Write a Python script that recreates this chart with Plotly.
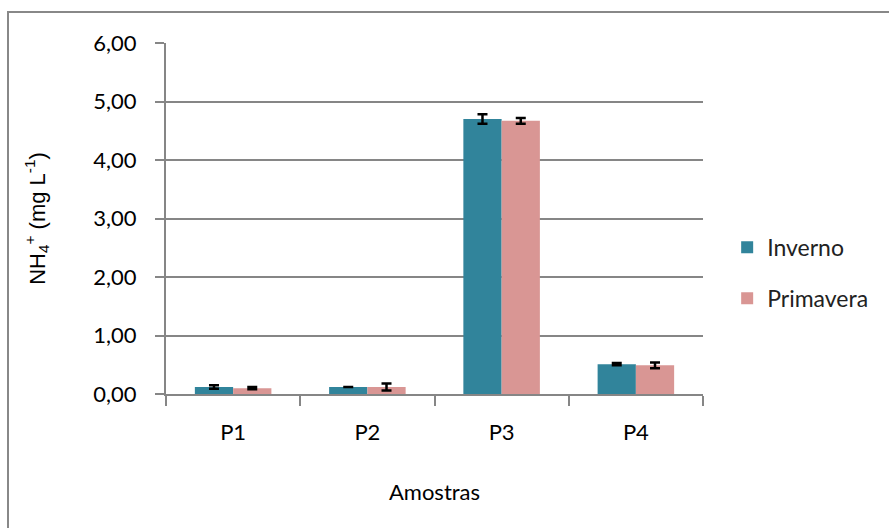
import plotly.graph_objects as go

# Amostras and NH4+ concentrations (mg/L) with standard deviations
amostras = ["P1", "P2", "P3", "P4"]
inverno = [0.12, 0.12, 4.70, 0.51]
inverno_err = [0.03, 0.0, 0.08, 0.02]
primavera = [0.10, 0.12, 4.67, 0.49]
primavera_err = [0.02, 0.06, 0.05, 0.05]

y_ticks = [0, 1, 2, 3, 4, 5, 6]
y_tick_labels = ["0,00", "1,00", "2,00", "3,00", "4,00", "5,00", "6,00"]

font_main = "Lato, Carlito, Calibri, sans-serif"

fig = go.Figure()
fig.add_trace(go.Bar(
    name="Inverno", x=amostras, y=inverno,
    marker=dict(color="#31849B", line=dict(width=0)),
    error_y=dict(type="data", array=inverno_err, color="black", thickness=2.5, width=5),
    legendgroup="a",
))
fig.add_trace(go.Bar(
    name="Primavera", x=amostras, y=primavera,
    marker=dict(color="#D99694", line=dict(width=0)),
    error_y=dict(type="data", array=primavera_err, color="black", thickness=2.5, width=5),
    legendgroup="b",
))

fig.update_layout(
    width=889, height=528,
    margin=dict(l=166, r=186, t=43, b=134, autoexpand=False),
    paper_bgcolor="white", plot_bgcolor="white",
    barmode="group", bargap=0.43, bargroupgap=0,
    font=dict(family=font_main, size=22, color="#000000"),
    showlegend=True,
    legend=dict(x=1.045, y=0.345, xanchor="left", yanchor="middle",
                font=dict(size=23, family=font_main, color="#222"),
                tracegroupgap=18, itemwidth=30, bgcolor="rgba(0,0,0,0)"),
    xaxis=dict(
        type="category", showline=True, linecolor="#868686", linewidth=2,
        ticks="outside", tickson="boundaries", ticklen=10, tickcolor="#868686", tickwidth=2,
        showgrid=False, tickfont=dict(size=22, family=font_main), ticklabelstandoff=18,
        title=dict(text="Amostras", font=dict(size=22, family=font_main), standoff=40),
        automargin=False,
    ),
    yaxis=dict(
        range=[0, 6], tickvals=y_ticks, ticktext=y_tick_labels,
        showline=True, linecolor="#868686", linewidth=2,
        ticks="outside", ticklen=9, tickcolor="#868686", tickwidth=2,
        showgrid=True, gridcolor="#868686", gridwidth=1.5, zeroline=False,
        tickfont=dict(size=22, family=font_main), ticklabelstandoff=14,
        title=dict(text="NH<sub>4</sub><sup>+</sup> (mg L<sup>-1</sup>)",
                   font=dict(size=22, family="Liberation Sans, Arial, sans-serif"), standoff=42),
        automargin=False,
    ),
    shapes=[dict(type="rect", xref="paper", yref="paper",
                 x0=(8 - 166) / 537, x1=1.5, y0=-0.5, y1=(394 - 12) / 351,
                 line=dict(color="#888888", width=2), fillcolor="rgba(0,0,0,0)", layer="below")],
)

fig.write_html("out.html")
